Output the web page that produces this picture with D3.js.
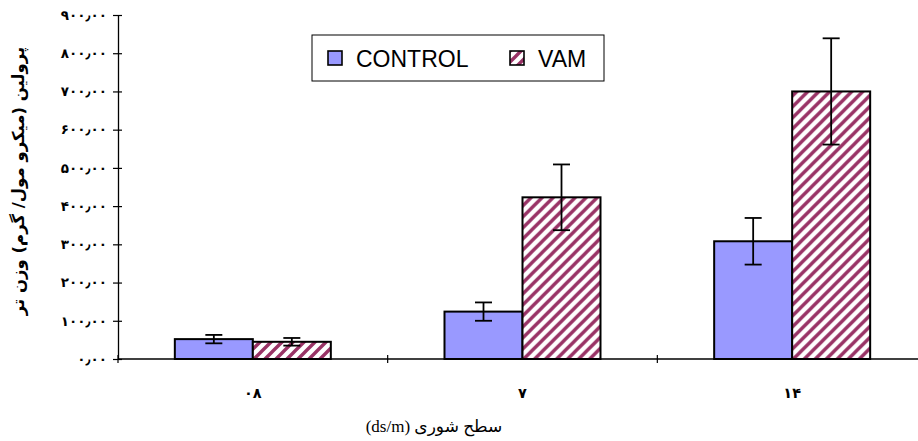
<!DOCTYPE html>
<html>
<head>
<meta charset="utf-8">
<script src="https://cdn.jsdelivr.net/npm/d3@7"></script>
<style>
  body { margin: 0; background: #fff; }
  svg { display: block; }
</style>
</head>
<body>
<svg id="chart" width="918" height="441"></svg>
<script>
// Salinity levels (ds/m) and proline content per treatment
const categories = ["۰۸", "۷", "۱۴"];
const seriesNames = ["CONTROL", "VAM"];
const controlValues = [52, 124, 308];
const controlErrors = [11, 24, 61];
const vamValues = [45, 423, 700];
const vamErrors = [10, 86, 139];
const yTicks = [0, 100, 200, 300, 400, 500, 600, 700, 800, 900];
const yTickLabels = ["۰٫۰۰", "۱۰۰٫۰۰", "۲۰۰٫۰۰", "۳۰۰٫۰۰", "۴۰۰٫۰۰",
                     "۵۰۰٫۰۰", "۶۰۰٫۰۰", "۷۰۰٫۰۰", "۸۰۰٫۰۰", "۹۰۰٫۰۰"];
const yTitle = "پرولین (میکرو مول/ گرم) وزن تر";
const xTitle = "سطح شوری (ds/m)";

const series = [
  { name: seriesNames[0], values: controlValues, errors: controlErrors, fill: "#9999ff" },
  { name: seriesNames[1], values: vamValues, errors: vamErrors, fill: "url(#diag)" }
];

const svg = d3.select("#chart");
const plot = { left: 118, right: 927, top: 15, bottom: 359 };

// Upward diagonal hatch for the VAM bars
const defs = svg.append("defs");
const P = 11;
const pat = defs.append("pattern")
  .attr("id", "diag")
  .attr("patternUnits", "userSpaceOnUse")
  .attr("width", P).attr("height", P);
pat.append("rect").attr("width", P).attr("height", P).attr("fill", "#fff");
pat.append("path")
  .attr("d", `M-3,3 L3,-3 M0,${P} L${P},0 M${P - 3},${P + 3} L${P + 3},${P - 3}`)
  .attr("stroke", "#993366")
  .attr("stroke-width", 3.4);

const x = d3.scaleBand().domain(categories).range([plot.left, plot.right]);
const barW = 78;
const x1 = d3.scaleBand().domain(seriesNames)
  .range([x.bandwidth() / 2 - barW, x.bandwidth() / 2 + barW]);
const y = d3.scaleLinear().domain([0, 900]).range([plot.bottom, plot.top]);

// Y axis
const yAxis = svg.append("g")
  .attr("transform", `translate(${plot.left},0)`)
  .call(d3.axisLeft(y).tickValues(yTicks)
    .tickFormat((d, i) => yTickLabels[i])
    .tickSizeInner(5).tickSizeOuter(0).tickPadding(6));
yAxis.select(".domain").attr("stroke", "#000").attr("stroke-width", 1.3);
yAxis.selectAll(".tick line").attr("x1", 4).attr("stroke", "#000").attr("stroke-width", 1.2);
yAxis.selectAll(".tick text")
  .attr("font-family", "DejaVu Sans")
  .attr("font-weight", "bold")
  .attr("font-size", 13.5)
  .attr("fill", "#000");

// Bars
const groups = svg.append("g").selectAll("g")
  .data(categories)
  .join("g")
  .attr("transform", d => `translate(${x(d)},0)`);

series.forEach(s => {
  groups.append("rect")
    .attr("x", x1(s.name))
    .attr("width", x1.bandwidth())
    .attr("y", (d, i) => y(s.values[i]))
    .attr("height", (d, i) => y(0) - y(s.values[i]))
    .attr("fill", s.fill)
    .attr("stroke", "#000")
    .attr("stroke-width", 2);
});

// X axis line with category separators
const xAxis = svg.append("g").attr("transform", `translate(0,${plot.bottom})`);
xAxis.append("line")
  .attr("x1", plot.left).attr("x2", plot.right)
  .attr("stroke", "#000").attr("stroke-width", 1.3);
const bounds = categories.map(c => x(c)).concat([plot.right]);
xAxis.selectAll("line.sep").data(bounds).join("line")
  .attr("class", "sep")
  .attr("x1", d => d).attr("x2", d => d)
  .attr("y1", -4).attr("y2", 4)
  .attr("stroke", "#000").attr("stroke-width", 1.2);
xAxis.selectAll("text").data(categories).join("text")
  .attr("x", d => x(d) + x.bandwidth() / 2)
  .attr("y", 39)
  .attr("text-anchor", "middle")
  .attr("font-family", "DejaVu Sans")
  .attr("font-weight", "bold")
  .attr("font-size", 14.5)
  .text(d => d);

// Error bars
series.forEach(s => {
  const eb = groups.append("g")
    .attr("stroke", "#000").attr("stroke-width", 1.8)
    .attr("transform", `translate(${x1(s.name) + x1.bandwidth() / 2},0)`);
  eb.append("line")
    .attr("y1", (d, i) => y(s.values[i] + s.errors[i]))
    .attr("y2", (d, i) => y(s.values[i] - s.errors[i]));
  eb.append("line")
    .attr("x1", -8.5).attr("x2", 8.5)
    .attr("y1", (d, i) => y(s.values[i] + s.errors[i]))
    .attr("y2", (d, i) => y(s.values[i] + s.errors[i]));
  eb.append("line")
    .attr("x1", -8.5).attr("x2", 8.5)
    .attr("y1", (d, i) => y(s.values[i] - s.errors[i]))
    .attr("y2", (d, i) => y(s.values[i] - s.errors[i]));
});

// Legend
const legend = svg.append("g");
legend.append("rect")
  .attr("x", 312).attr("y", 35).attr("width", 292).attr("height", 46)
  .attr("fill", "#fff").attr("stroke", "#000").attr("stroke-width", 1);
const legendX = [328, 510];
series.forEach((s, i) => {
  legend.append("rect")
    .attr("x", legendX[i]).attr("y", 51).attr("width", 14).attr("height", 14)
    .attr("fill", s.fill).attr("stroke", "#000").attr("stroke-width", 1.6);
  legend.append("text")
    .attr("x", legendX[i] + 28).attr("y", 66.5)
    .attr("font-family", "Liberation Sans, Arial, sans-serif")
    .attr("font-size", 23)
    .text(s.name);
});

// Axis titles
svg.append("text")
  .attr("transform", "translate(24,181) rotate(-90)")
  .attr("text-anchor", "middle")
  .attr("direction", "rtl")
  .attr("font-family", "DejaVu Sans")
  .attr("font-weight", "bold")
  .attr("font-size", 16.5)
  .text(yTitle);

svg.append("text")
  .attr("x", 434).attr("y", 432)
  .attr("text-anchor", "middle")
  .attr("direction", "rtl")
  .attr("font-family", "Liberation Serif, DejaVu Serif, DejaVu Sans")
  .attr("font-size", 17)
  .text(xTitle);
</script>
</body>
</html>
